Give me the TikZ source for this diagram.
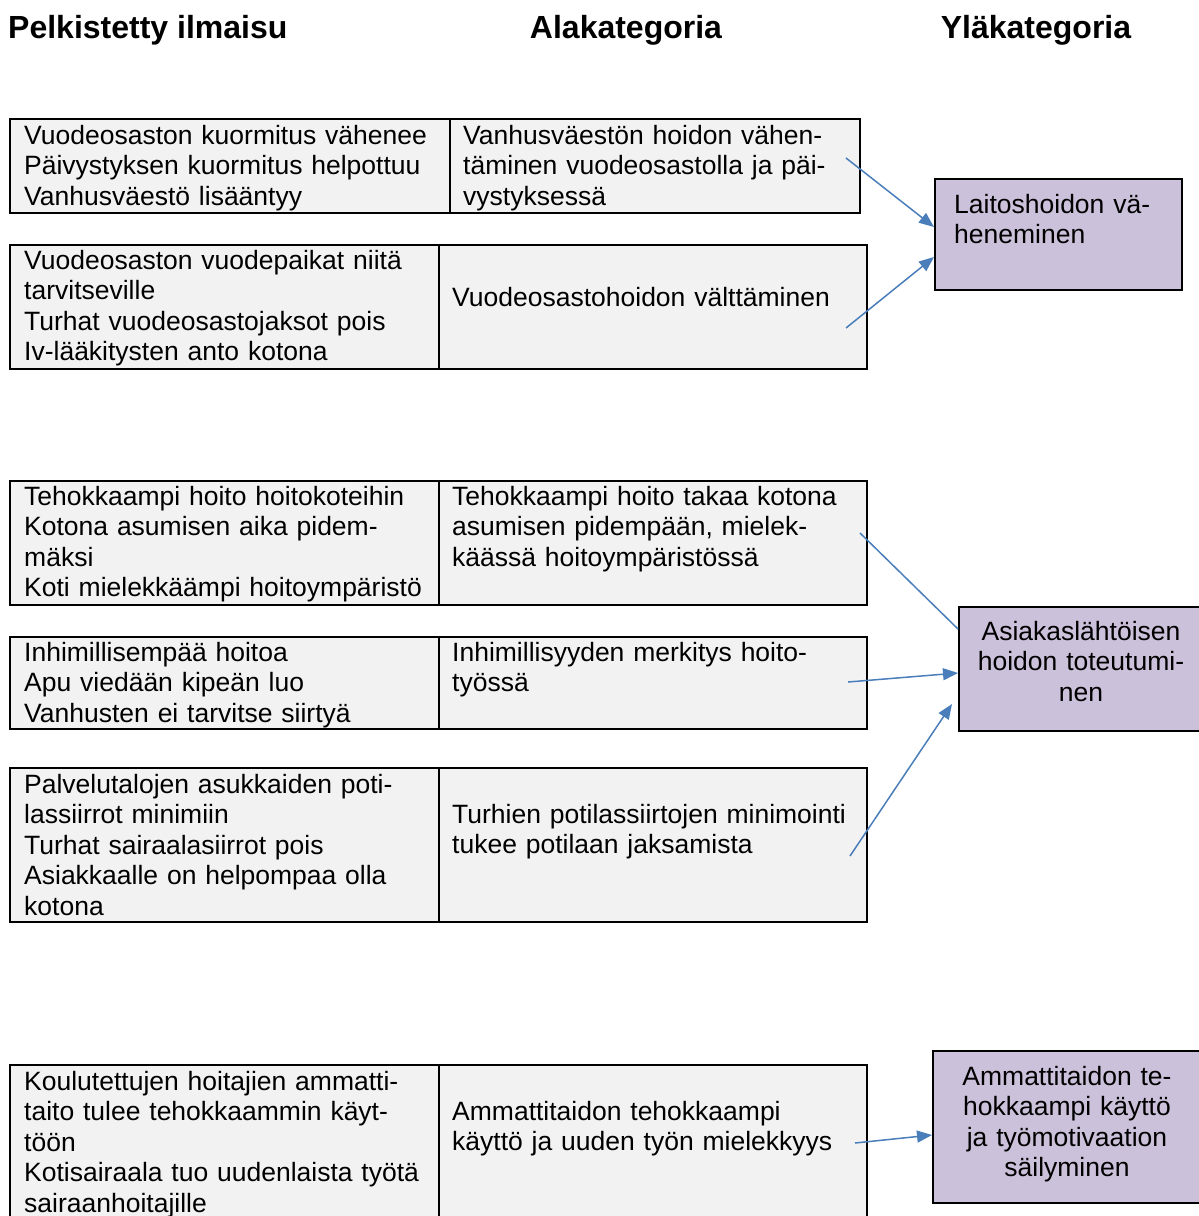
\documentclass[tikz,border=0pt]{standalone}
\usepackage{fontspec}
\setmainfont{Liberation Sans}
\usetikzlibrary{arrows.meta,calc}
\definecolor{cellgray}{HTML}{F2F2F2}
\definecolor{lavender}{HTML}{CCC1DA}
\definecolor{arrowblue}{HTML}{4A7EBB}
\begin{document}
\begin{tikzpicture}[x=1pt,y=-1pt,
  cell/.style={draw=black, fill=cellgray, line width=1.5pt, anchor=north west, inner sep=0pt},
  category/.style={draw=black, fill=lavender, line width=1.5pt, anchor=north west, inner sep=0pt},
  txt/.style={inner sep=0pt, anchor=base west, text width=#1, align=left,
    font=\fontsize{26.5}{30.6}\selectfont},
  txt/.default=415pt,
  ctxt/.style={inner sep=0pt, anchor=base, text width=#1, align=center,
    font=\fontsize{26.5}{30.6}\selectfont},
  head/.style={inner sep=0pt, font=\fontsize{32}{36}\selectfont\bfseries},
  arr/.style={draw=arrowblue, line width=1.5pt, -{Triangle[length=15pt,width=12pt]}},
  plainline/.style={draw=arrowblue, line width=1.5pt}]

\useasboundingbox (0,0) rectangle (1199,1216);
\clip (0,0) rectangle (1199,1216);

% column headings
\node[head, anchor=base west] (h1) at (8,38.5) {Pelkistetty ilmaisu};
\node[head, anchor=base] (h2) at (626,38.5) {Alakategoria};
\node[head, anchor=base] (h3) at (1036,38.5) {Yläkategoria};

% table rows: reduced expressions and sub-categories
\node[cell, minimum width=440pt, minimum height=94pt] (r1l) at (9,118) {};
\node[cell, minimum width=410pt, minimum height=94pt] (r1r) at (449,118) {};
\node[cell, minimum width=429pt, minimum height=124pt] (r2l) at (9,244) {};
\node[cell, minimum width=428pt, minimum height=124pt] (r2r) at (438,244) {};
\node[cell, minimum width=429pt, minimum height=124pt] (r3l) at (9,480) {};
\node[cell, minimum width=428pt, minimum height=124pt] (r3r) at (438,480) {};
\node[cell, minimum width=429pt, minimum height=92pt] (r4l) at (9,636) {};
\node[cell, minimum width=428pt, minimum height=92pt] (r4r) at (438,636) {};
\node[cell, minimum width=429pt, minimum height=154pt] (r5l) at (9,767) {};
\node[cell, minimum width=428pt, minimum height=154pt] (r5r) at (438,767) {};
\node[cell, minimum width=429pt, minimum height=170pt] (r6l) at (9,1064) {};
\node[cell, minimum width=428pt, minimum height=170pt] (r6r) at (438,1064) {};

\node[txt] (t1l) at (24,144) {Vuodeosaston kuormitus vähenee\\Päivystyksen kuormitus helpottuu\\Vanhusväestö lisääntyy};
\node[txt=390pt] (t1r) at (463,144) {Vanhusväestön hoidon vähen-\\täminen vuodeosastolla ja päi-\\vystyksessä};
\node[txt] (t2l) at (24,269) {Vuodeosaston vuodepaikat niitä\\tarvitseville\\Turhat vuodeosastojaksot pois\\Iv-lääkitysten anto kotona};
\node[txt] (t2r) at (452,306) {Vuodeosastohoidon välttäminen};
\node[txt] (t3l) at (24,505) {Tehokkaampi hoito hoitokoteihin\\Kotona asumisen aika pidem-\\mäksi\\Koti mielekkäämpi hoitoympäristö};
\node[txt] (t3r) at (452,505) {Tehokkaampi hoito takaa kotona\\asumisen pidempään, mielek-\\käässä hoitoympäristössä};
\node[txt] (t4l) at (24,661) {Inhimillisempää hoitoa\\Apu viedään kipeän luo\\Vanhusten ei tarvitse siirtyä};
\node[txt] (t4r) at (452,661) {Inhimillisyyden merkitys hoito-\\työssä};
\node[txt] (t5l) at (24,793) {Palvelutalojen asukkaiden poti-\\lassiirrot minimiin\\Turhat sairaalasiirrot pois\\Asiakkaalle on helpompaa olla\\kotona};
\node[txt] (t5r) at (452,823) {Turhien potilassiirtojen minimointi\\tukee potilaan jaksamista};
\node[txt] (t6l) at (24,1090) {Koulutettujen hoitajien ammatti-\\taito tulee tehokkaammin käyt-\\töön\\Kotisairaala tuo uudenlaista työtä\\sairaanhoitajille};
\node[txt] (t6r) at (452,1120) {Ammattitaidon tehokkaampi\\käyttö ja uuden työn mielekkyys};

% upper categories
\node[category, minimum width=247pt, minimum height=111pt] (p1) at (934,178) {};
\node[txt=220pt] (tp1) at (954,213) {Laitoshoidon vä-\\heneminen};
\node[category, minimum width=246pt, minimum height=124pt] (p2) at (958,606) {};
\node[ctxt=240pt] (tp2) at (1081,640) {Asiakaslähtöisen\\hoidon toteutumi-\\nen};
\node[category, minimum width=270pt, minimum height=152pt] (p3) at (932,1050) {};
\node[ctxt=260pt] (tp3) at (1067,1085) {Ammattitaidon te-\\hokkaampi käyttö\\ja työmotivaation\\säilyminen};

% connector start points inside the sub-category cells
\coordinate (s1) at (846,158);
\coordinate (s2) at (846,328);
\coordinate (s3) at (860,533);
\coordinate (s4) at (848,682);
\coordinate (s5) at (850,856);
\coordinate (s6) at (855,1143);

\draw[arr] (s1) -- ($(p1.north west)+(0,49)$);
\draw[arr] (s2) -- ($(p1.north west)+(0,79)$);
\draw[plainline] (s3) -- ($(p2.north west)+(0,23)$);
\draw[arr] (s4) -- ($(p2.north west)+(0,67)$);
\draw[arr] (s5) -- ($(p2.north west)+(-6,98)$);
\draw[arr] (s6) -- ($(p3.north west)+(0,85)$);
\end{tikzpicture}
\end{document}
